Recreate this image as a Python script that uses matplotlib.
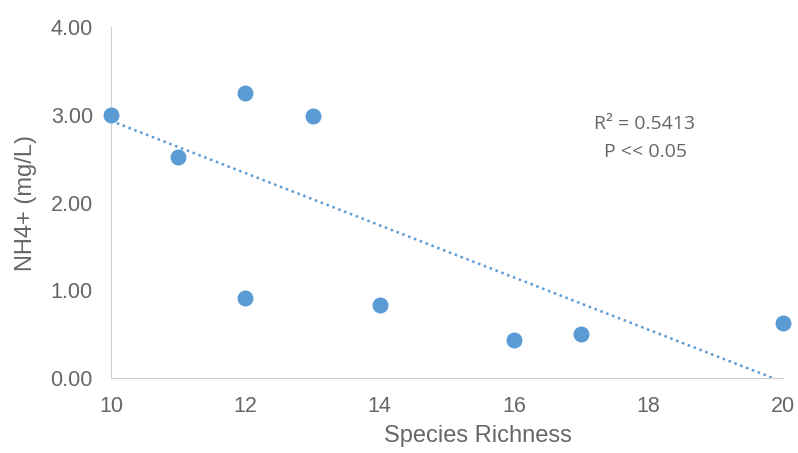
import numpy as np
import matplotlib
matplotlib.use("Agg")
import matplotlib.pyplot as plt

# data
species_richness = [10, 11, 12, 13, 12, 14, 16, 17, 20]
nh4 = [3.00, 2.52, 3.25, 2.99, 0.91, 0.83, 0.43, 0.50, 0.63]
# trendline as drawn in the chart (value at x=10, slope)
trend_start = 2.93
trend_slope = -0.2975
r2_text = "R² = 0.5413"
p_text = "P << 0.05"

plt.rcParams['font.family'] = ['Liberation Sans', 'DejaVu Sans']
grey = "#666666"
blue = "#5B9BD5"

fig = plt.figure(figsize=(7.98, 4.53), dpi=100)
ax = fig.add_axes([111/798, 1-378/453, (783-111)/798, (378-27)/453])

ax.scatter(species_richness, nh4, s=110, color=blue, zorder=3, clip_on=False)

# linear trendline, ends where it reaches zero
x_end = 10 - trend_start/trend_slope
xs = np.array([10, x_end])
ax.plot(xs, trend_start + trend_slope*(xs-10), linestyle=(0, (1, 1.5)),
        color=blue, lw=1.8, zorder=2)

ax.set_xlim(10, 20)
ax.set_ylim(0, 4)
ax.set_xticks([10, 12, 14, 16, 18, 20])
ax.set_yticks([0, 1, 2, 3, 4])
ax.set_yticklabels(["%.2f" % v for v in [0, 1, 2, 3, 4]])

for s in ["top", "right"]:
    ax.spines[s].set_visible(False)
ax.spines["left"].set_color("#d0d0d0")
ax.spines["bottom"].set_color("#d0d0d0")
ax.tick_params(length=0, colors=grey, labelsize=15.5)
ax.tick_params(axis="y", pad=13)
ax.tick_params(axis="x", pad=13)

ax.set_xlabel("Species Richness", color=grey, fontsize=17, labelpad=8)
ax.xaxis.set_label_coords(0.546, -0.135)
ax.set_ylabel("NH4+ (mg/L)", color=grey, fontsize=17, labelpad=10)

ax.text(645/798, 1-124/453, r2_text, transform=fig.transFigure, ha="center", va="center",
        color=grey, fontsize=14, family=['Open Sans', 'DejaVu Sans'])
ax.text(645/798, 1-152/453, p_text, transform=fig.transFigure, ha="center", va="center",
        color=grey, fontsize=14, family=['Open Sans', 'DejaVu Sans'])

fig.savefig("out.png", dpi=100)
